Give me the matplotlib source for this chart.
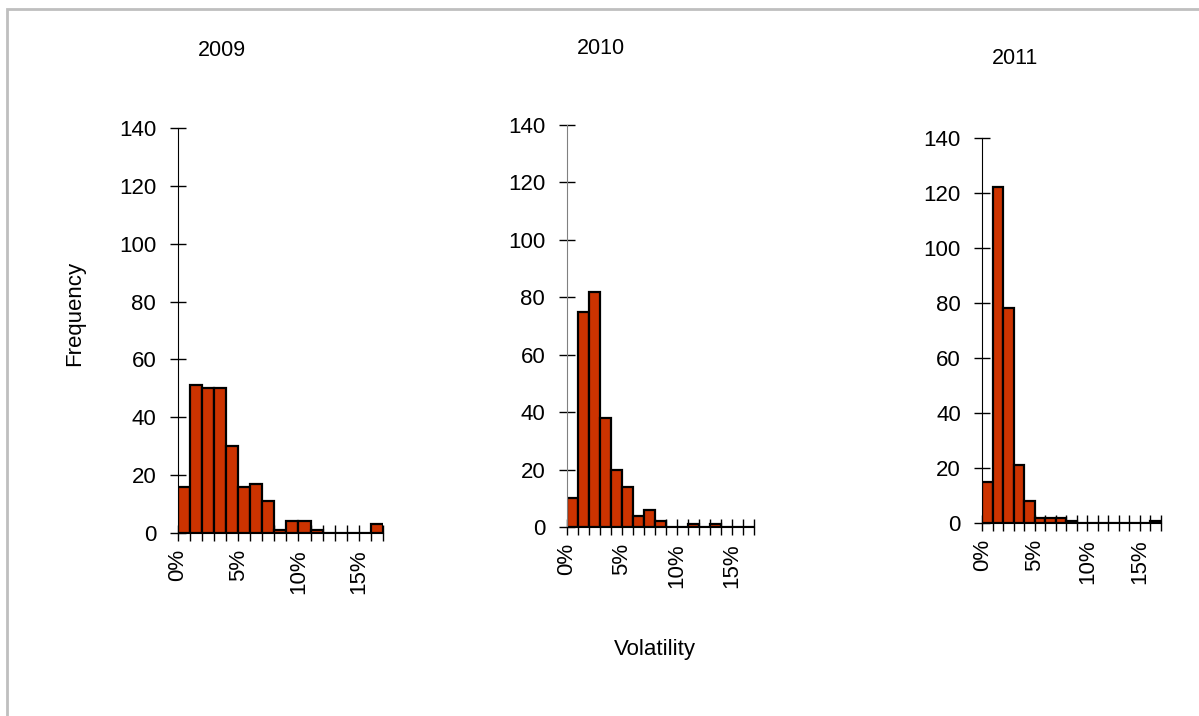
import matplotlib
matplotlib.use("Agg")
import matplotlib.pyplot as plt
from matplotlib.patches import Rectangle
from matplotlib.ticker import FuncFormatter, MultipleLocator

plt.rcParams['font.family'] = ['Liberation Sans', 'DejaVu Sans']

# bin left edges (volatility, 1% wide bins)
bin_edges = [0.00, 0.01, 0.02, 0.03, 0.04, 0.05, 0.06, 0.07, 0.08,
             0.09, 0.10, 0.11, 0.12, 0.13, 0.14, 0.15, 0.16]
years = ["2009", "2010", "2011"]
counts_2009 = [16, 51, 50, 50, 30, 16, 17, 11, 1, 4, 4, 1, 0, 0, 0, 0, 3]
counts_2010 = [10, 75, 82, 38, 20, 14, 4, 6, 2, 0, 0, 1, 0, 1, 0, 0, 0]
counts_2011 = [15, 122, 78, 21, 8, 2, 2, 2, 1, 0, 0, 0, 0, 0, 0, 0, 1]
all_counts = [counts_2009, counts_2010, counts_2011]

W, H = 1199, 716
fig = plt.figure(figsize=(W / 100, H / 100), dpi=100)

# outer grey frame (runs off the right and bottom edges)
fig.patches.append(Rectangle((7 / W, -0.1), 1.2, 1 - 9 / H + 0.1, transform=fig.transFigure,
                             fill=False, edgecolor="#bfbfbf", linewidth=2))

# panel boxes in pixels: left, right, top, bottom
boxes = [(177.7, 383, 128, 533), (566.7, 754, 125, 527), (982.3, 1161, 137.7, 523.3)]
title_pos = [(222, 50), (601, 48), (1015, 58)]
left_spine_colors = ["black", "#808080", "black"]

for counts, year, (l, r, t, b), (tx, ty), sc in zip(all_counts, years, boxes, title_pos, left_spine_colors):
    ax = fig.add_axes([l / W, 1 - b / H, (r - l) / W, (b - t) / H])
    ax.bar(bin_edges, counts, width=0.01, align='edge', color="#cc3300",
           edgecolor="black", linewidth=1.6, zorder=3)
    ax.set_xlim(0, 0.17)
    ax.set_ylim(0, 140)
    ax.yaxis.set_major_locator(MultipleLocator(20))
    ax.xaxis.set_major_locator(MultipleLocator(0.05))
    ax.xaxis.set_minor_locator(MultipleLocator(0.01))
    ax.xaxis.set_major_formatter(FuncFormatter(lambda v, p: f"{round(v * 100)}%"))
    for s in ["top", "right"]:
        ax.spines[s].set_visible(False)
    ax.spines["left"].set_color(sc)
    ax.spines["left"].set_zorder(4)
    ax.spines["bottom"].set_zorder(4)
    ax.tick_params(axis="both", which="both", direction="inout", length=11, width=1, labelsize=16)
    ax.tick_params(axis="y", pad=10)
    ax.tick_params(axis="x", which="major", pad=6, labelrotation=90)
    ax.patch.set_alpha(0)
    fig.text(tx / W, 1 - ty / H, year, ha="center", va="center", fontsize=15.5)

fig.text(75 / W, 1 - 313 / H, "Frequency", rotation=90, ha="center", va="center", fontsize=16)
fig.text(655 / W, 1 - 650 / H, "Volatility", ha="center", va="center", fontsize=16)

fig.savefig("out.png", dpi=100)
